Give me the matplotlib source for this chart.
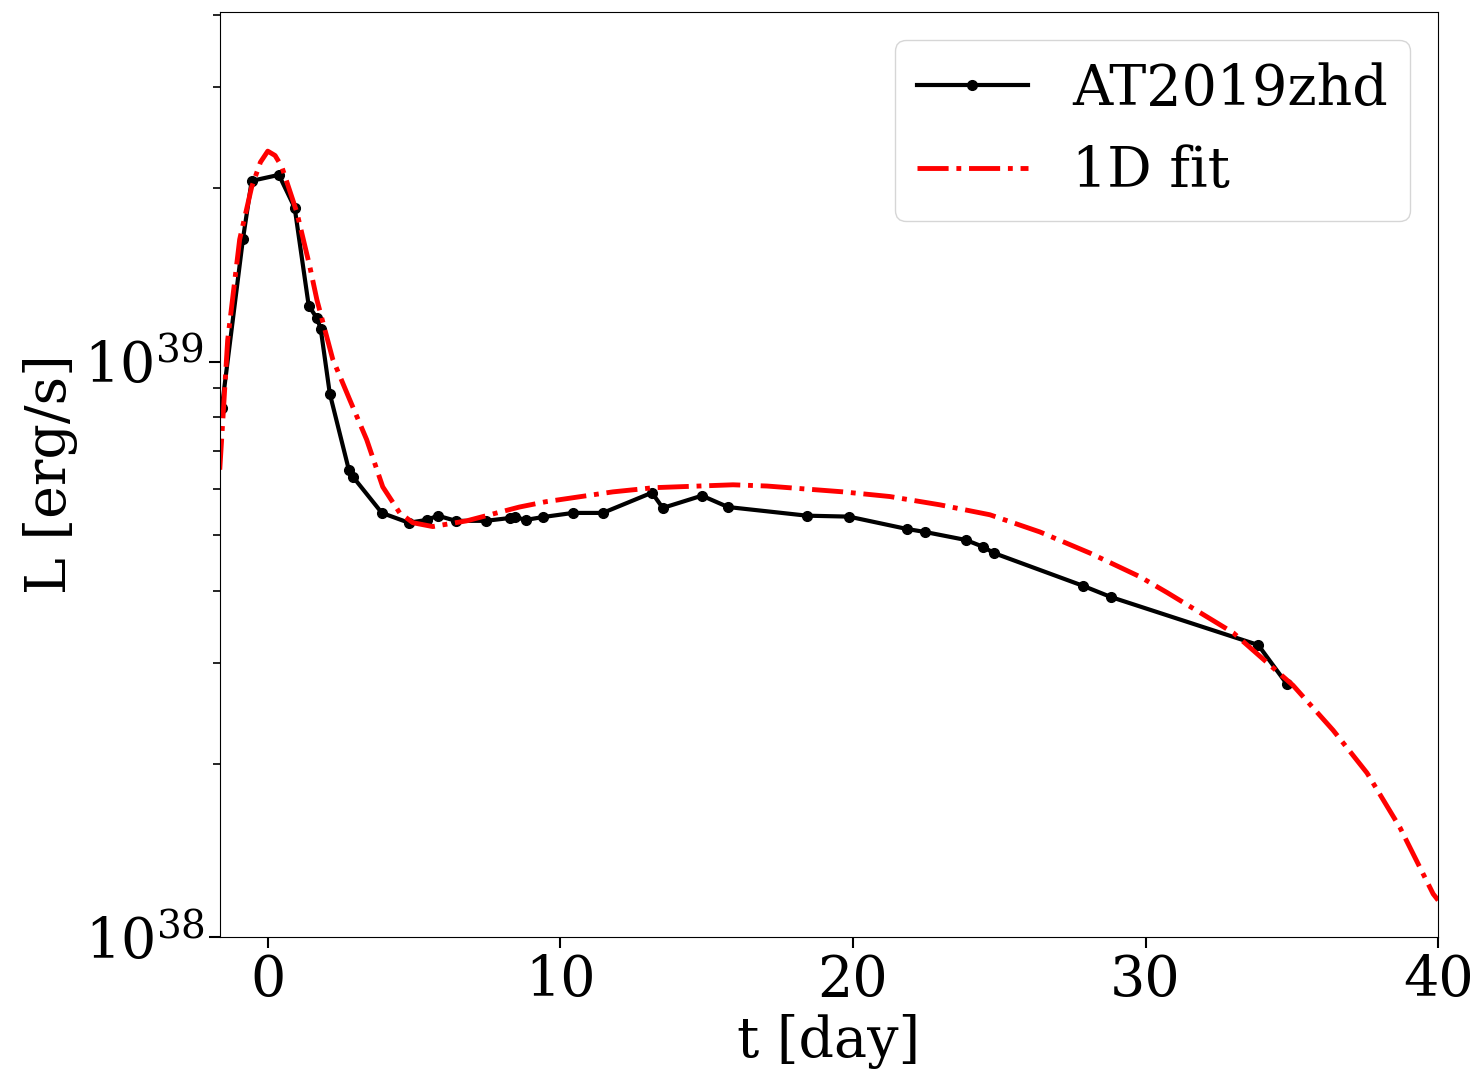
import matplotlib.pyplot as plt

plt.rcParams['font.family'] = ['DejaVu Serif']

# observed light curve of AT2019zhd
t_obs = [-1.57, -0.85, -0.55, 0.38, 0.92, 1.40, 1.68, 1.81, 2.12, 2.77, 2.91, 3.90,
         4.82, 5.44, 5.81, 6.43, 7.45, 8.27, 8.44, 8.82, 9.40, 10.43, 11.45, 13.13,
         13.50, 14.84, 15.73, 18.43, 19.86, 21.85, 22.46, 23.86, 24.44, 24.82, 27.86,
         28.82, 33.85, 34.84]
L_obs = [8.32e38, 1.63e39, 2.06e39, 2.11e39, 1.85e39, 1.25e39, 1.19e39, 1.14e39,
         8.80e38, 6.49e38, 6.31e38, 5.46e38, 5.25e38, 5.31e38, 5.40e38, 5.29e38,
         5.29e38, 5.35e38, 5.37e38, 5.31e38, 5.37e38, 5.46e38, 5.46e38, 5.92e38,
         5.57e38, 5.85e38, 5.59e38, 5.40e38, 5.38e38, 5.12e38, 5.06e38, 4.90e38,
         4.77e38, 4.65e38, 4.08e38, 3.90e38, 3.22e38, 2.75e38]

# 1D model fit
t_fit = [-1.64, -1.37, -0.96, -0.55, -0.25, 0.0, 0.25, 0.48, 0.99, 1.44, 1.68, 2.22,
         2.80, 3.38, 3.93, 4.51, 4.96, 5.64, 6.80, 7.83, 8.60, 9.50, 11.8, 13.2,
         15.9, 17.06, 19.66, 21.26, 22.97, 24.68, 26.39, 28.1, 29.81, 30.74, 33.0,
         35.04, 36.41, 37.57, 38.70, 39.83, 40.0]
L_fit = [6.49e38, 1.09e39, 1.63e39, 2.01e39, 2.22e39, 2.32e39, 2.28e39, 2.18e39,
         1.82e39, 1.46e39, 1.28e39, 1.01e39, 8.59e38, 7.32e38, 6.06e38, 5.46e38,
         5.25e38, 5.17e38, 5.29e38, 5.46e38, 5.59e38, 5.71e38, 5.94e38, 6.04e38,
         6.11e38, 6.08e38, 5.94e38, 5.83e38, 5.64e38, 5.42e38, 5.06e38, 4.65e38,
         4.23e38, 3.97e38, 3.38e38, 2.74e38, 2.29e38, 1.93e38, 1.55e38, 1.19e38,
         1.16e38]

fig = plt.figure(figsize=(14.75, 10.75), dpi=100)
ax = fig.add_axes([0.149, 0.128, 0.826, 0.861])

ax.plot(t_obs, L_obs, 'k.-', lw=3, ms=14, label='AT2019zhd')
ax.plot(t_fit, L_fit, 'r-.', lw=3.5, label='1D fit')

ax.set_yscale('log')
ax.set_xlim(-1.64, 40)
ax.set_ylim(1e38, 4.05e39)
ax.set_xlabel('t [day]', fontsize=40)
ax.set_ylabel('L [erg/s]', fontsize=40)
ax.tick_params(labelsize=40, length=8, width=1.5)
ax.tick_params(which='minor', length=5, width=1.2)

ax.legend(fontsize=40, loc='upper right')

fig.savefig('out.png')
